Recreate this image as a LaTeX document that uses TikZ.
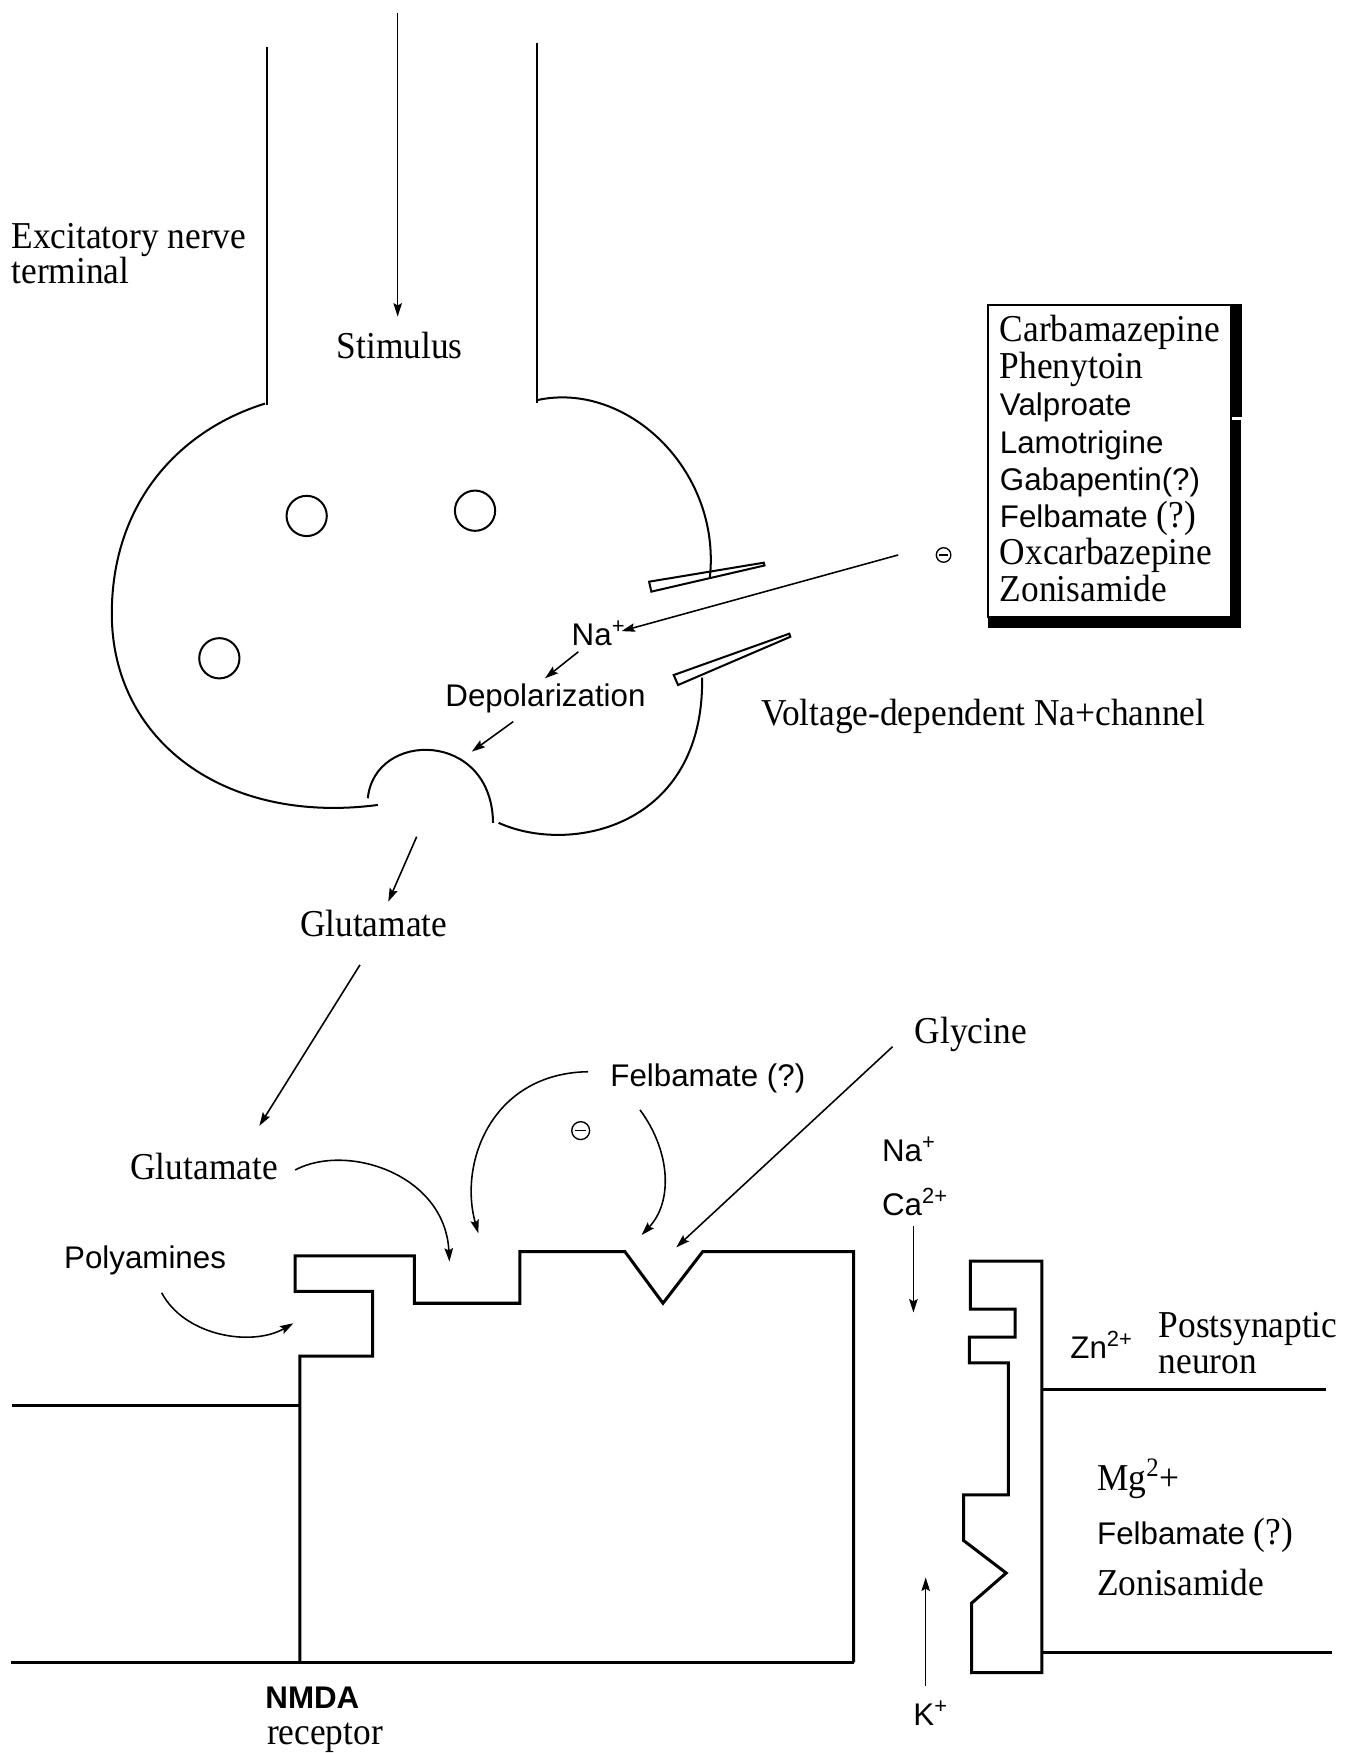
\documentclass[tikz,border=0pt]{standalone}
\usepackage{fontspec}
\setmainfont{Liberation Serif}[FakeStretch=0.93]
\setsansfont{Liberation Sans}
\usetikzlibrary{arrows.meta}
\newcommand\sanspart[1]{{\fontsize{14}{14}\selectfont\sffamily #1}}
\begin{document}
\begin{tikzpicture}[x=0.5pt,y=-0.5pt,
  cellline/.style={line width=0.9pt},
  protein/.style={line width=1.35pt, line join=miter},
  membrane/.style={line width=1.35pt},
  flow/.style={line width=0.7pt, -{Stealth[length=6pt,width=3.8pt,inset=1pt]}},
  rmtext/.style={inner sep=0pt, anchor=base west, font=\fontsize{17}{17}\selectfont\rmfamily},
  sftext/.style={inner sep=0pt, anchor=base west, font=\fontsize{14}{14}\selectfont\sffamily},
  vesicle/.style={circle, draw, line width=0.9pt, inner sep=0pt, minimum size=18pt},
  inhib/.style={circle, draw, line width=0.6pt, inner sep=0pt, minimum size=#1,
    path picture={\draw[line width=0.6pt]
      ([xshift=-0.3*#1]path picture bounding box.center) --
      ([xshift=0.3*#1]path picture bounding box.center);}},
]
\useasboundingbox (0,0) rectangle (1203,1568);
\fill[white] (0,0) rectangle (1203,1568);

% ---------- presynaptic terminal ----------
\coordinate (neckLtop) at (239,42.3);
\coordinate (neckLbot) at (239,362.5);
\coordinate (neckRtop) at (480,38.8);
\coordinate (neckRbot) at (480,360.8);
\draw[cellline] (neckLtop) -- (neckLbot);
\draw[cellline] (neckRtop) -- (neckRbot);

% left lobe
\draw[cellline] (237,361) .. controls (160,385) and (100,450) .. (100,549)
  .. controls (100,662) and (200,738) .. (338,720);
% exocytosis bulge
\draw[cellline] (329,714) .. controls (335,653) and (440,653) .. (441,736);
% lower right lobe
\draw[cellline] (446,736) .. controls (510,765) and (630,740) .. (628,606);
% upper right lobe
\draw[cellline] (480,358) .. controls (560,340) and (645,420) .. (635,516);

% synaptic vesicles
\node[vesicle] (ves1) at (274.3,461.5) {};
\node[vesicle] (ves2) at (424.9,456.8) {};
\node[vesicle] (ves3) at (196.2,588.8) {};

% sodium channel halves
\draw[cellline, line join=miter] (580.6,520.3) -- (683.2,503.3) -- (683.8,505.8) -- (582.6,529.2) -- cycle;
\draw[cellline, line join=miter] (602.6,603.8) -- (706,566.8) -- (706.9,569.6) -- (606.5,612.7) -- cycle;

% labels of the terminal
\node[rmtext] (excit) at (10,222) {Excitatory nerve};
\node[rmtext] (term) at (10,254) {terminal};
\node[rmtext] (stim) at (301,320.5) {Stimulus};
\node[sftext] (naA) at (511,577) {Na\textsuperscript{+}};
\node[sftext] (depol) at (398,632) {Depolarization};
\node[rmtext] (volt) at (680.4,648.5) {Voltage-dependent Na+channel};
\node[rmtext] (gluA) at (268,838) {Glutamate};

% drug box
\draw[line width=0.9pt] (884,272.5) rectangle (1101,552);
\fill (1100,271.6) rectangle (1110.5,372.8);
\fill (1100,375.8) rectangle (1110,562);
\fill (884,551.5) rectangle (1110,562);
\node[rmtext] (dCbz) at (894,305.6) {Carbamazepine};
\node[rmtext] (dPht) at (894,338.8) {Phenytoin};
\node[sftext] (dVpa) at (894,372) {Valproate};
\node[sftext] (dLtg) at (894,405.2) {Lamotrigine};
\node[sftext] (dGbp) at (894,438.6) {Gabapentin(?)};
\node[rmtext] (dFbm) at (894,471.8) {\sanspart{Felbamate} (?)};
\node[rmtext] (dOxc) at (894,505) {Oxcarbazepine};
\node[rmtext] (dZns) at (894,538.2) {Zonisamide};
\node[inhib=6.5pt] (inhA) at (844,496.4) {};

% arrows of the terminal
\coordinate (stimTail) at (355.7,11.9);
\coordinate (stimHead) at (355.7,283.2);
\draw[flow] (stimTail) -- (stimHead);
\coordinate (blockTail) at (803.4,496.4);
\coordinate (blockHead) at (556,564.5);
\draw[flow] (blockTail) -- (blockHead);
\coordinate (naTail) at (517.3,583);
\coordinate (naHead) at (487.5,606.7);
\draw[flow] (naTail) -- (naHead);
\coordinate (depTail) at (459,645.5);
\coordinate (depHead) at (422,672.3);
\draw[flow] (depTail) -- (depHead);
\coordinate (relTail) at (372.7,748.4);
\coordinate (relHead) at (347.3,806.5);
\draw[flow] (relTail) -- (relHead);
\coordinate (diffTail) at (322,863);
\coordinate (diffHead) at (232,1007);
\draw[flow] (diffTail) -- (diffHead);

% ---------- NMDA receptor ----------
\draw[membrane] (11,1257) -- (268.3,1257);
\draw[membrane] (10,1487) -- (763.5,1487);
\draw[protein] (268.3,1487) -- (268.3,1213) -- (333.3,1213) -- (333.3,1155)
  -- (264,1155) -- (264,1123.4) -- (370.6,1123.4) -- (370.6,1165.7)
  -- (465.1,1165.7) -- (465.1,1119.6) -- (559,1119.6) -- (593,1165.7)
  -- (628.5,1119.6) -- (763.5,1119.6) -- (763.5,1487);

% channel wall of the postsynaptic side
\draw[protein] (868,1128) -- (932,1128) -- (932,1496) -- (869,1496) -- (869,1434)
  -- (900,1407) -- (862,1378) -- (862,1337) -- (902,1337) -- (902,1219)
  -- (867,1219) -- (867,1196) -- (908,1196) -- (908,1171) -- (868,1171) -- cycle;
\draw[membrane] (932,1242.6) -- (1186,1242.6);
\draw[membrane] (932,1477.7) -- (1191,1477.7);

% labels of the receptor
\node[rmtext] (glycine) at (818,933) {Glycine};
\node[sftext] (felbA) at (545.6,972) {Felbamate (?)};
\node[inhib=8pt] (inhB) at (519.4,1011.3) {};
\node[rmtext] (gluB) at (116.3,1055) {Glutamate};
\node[sftext] (polyam) at (57,1134.5) {Polyamines};
\node[sftext] (naB) at (788.6,1039) {Na\textsuperscript{+}};
\node[sftext] (caB) at (788.6,1087) {Ca\textsuperscript{2+}};
\node[sftext] (zn) at (957,1215) {Zn\textsuperscript{2+}};
\node[rmtext] (post) at (1036,1196) {Postsynaptic};
\node[rmtext] (neuron) at (1036,1228.5) {neuron};
\node[rmtext] (mg) at (981,1333.3) {Mg\textsuperscript{2}+};
\node[rmtext] (felbB) at (981,1381.2) {\sanspart{Felbamate} (?)};
\node[rmtext] (zoni) at (981,1427.4) {Zonisamide};
\node[sftext, font=\fontsize{14}{14}\selectfont\sffamily\bfseries] (nmda) at (237,1528) {NMDA};
\node[rmtext] (recep) at (238.5,1560.5) {receptor};
\node[sftext] (kB) at (816.6,1543) {K\textsuperscript{+}};

% binding arrows
\coordinate (gluCurveTail) at (264,1046.5);
\coordinate (gluCurveHead) at (402,1128.5);
\draw[flow] (gluCurveTail) .. controls (310,1022) and (398,1050) .. (gluCurveHead);
\coordinate (felbLTail) at (526,958.6);
\coordinate (felbLHead) at (427.8,1103.1);
\draw[flow] (felbLTail) .. controls (440,960) and (410,1040) .. (felbLHead);
\coordinate (felbRTail) at (572.5,992.8);
\coordinate (felbRHead) at (573.9,1104.7);
\draw[flow] (felbRTail) .. controls (600,1030) and (602,1075) .. (felbRHead);
\coordinate (polyTail) at (144.6,1156.3);
\coordinate (polyHead) at (262.4,1183.6);
\draw[flow] (polyTail) .. controls (165,1195) and (225,1205) .. (polyHead);
\coordinate (glyTail) at (798.4,936.2);
\coordinate (glyHead) at (604.9,1115.7);
\draw[flow] (glyTail) -- (glyHead);
\coordinate (inTail) at (817,1097);
\coordinate (inHead) at (817,1174);
\draw[flow] (inTail) -- (inHead);
\coordinate (outTail) at (828,1508);
\coordinate (outHead) at (828,1411);
\draw[flow] (outTail) -- (outHead);
\end{tikzpicture}
\end{document}
